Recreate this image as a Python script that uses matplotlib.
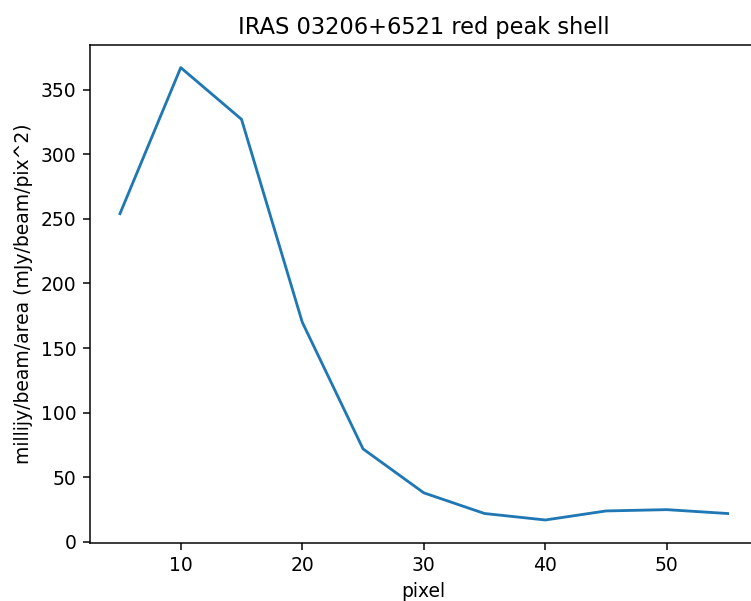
import matplotlib
matplotlib.use("Agg")
import matplotlib.pyplot as plt

pixel = [5, 10, 15, 20, 25, 30, 35, 40, 45, 50, 55]
flux = [254, 367, 327, 170, 72, 38, 22, 17, 24, 25, 22]

DPI = 135
W, H = 751, 601
fig = plt.figure(figsize=(W / DPI, H / DPI), dpi=DPI)
left, right, top, bottom = 89.6, 758.0, 45.0, 542.6
ax = fig.add_axes([left / W, (H - bottom) / H, (right - left) / W, (bottom - top) / H])
ax.plot(pixel, flux, color="#1f77b4")
ax.set_title("IRAS 03206+6521 red peak shell")
ax.set_xlabel("pixel")
ax.set_ylabel("millijy/beam/area (mJy/beam/pix^2)")
fig.savefig("out.png", dpi=DPI)
